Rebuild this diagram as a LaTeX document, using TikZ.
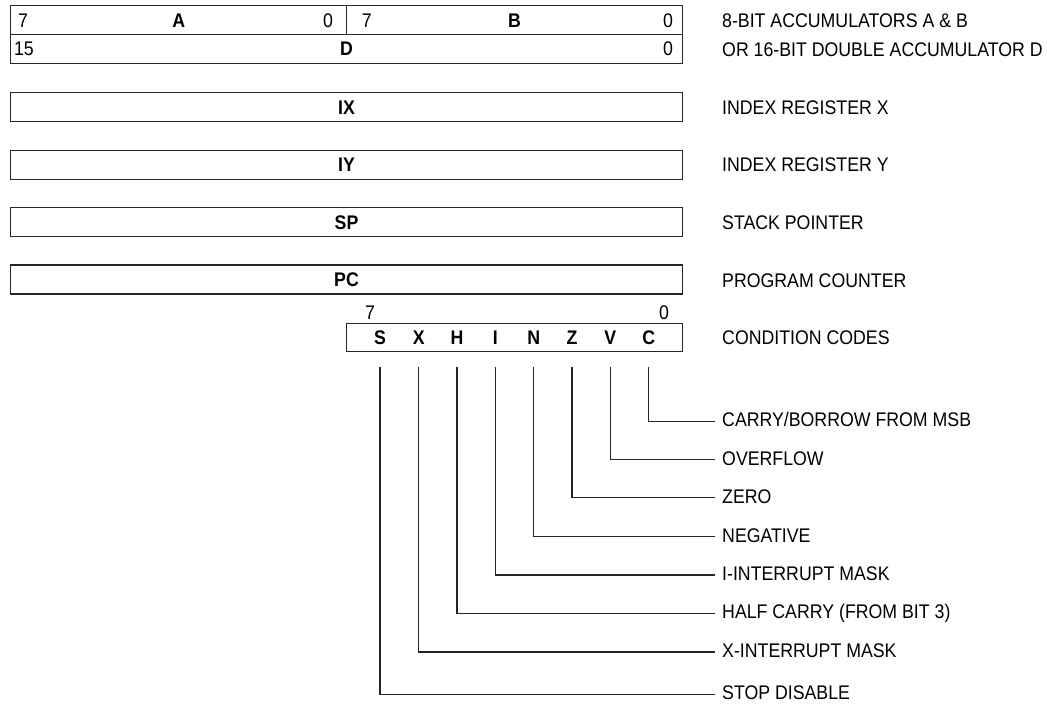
\documentclass[tikz,border=0pt]{standalone}
\usepackage{fontspec}
\setmainfont{Liberation Sans}[FakeStretch=0.9]
\begin{document}
\begin{tikzpicture}[x=1pt,y=-1pt,
  every node/.style={inner sep=0pt, text height=14pt, text depth=0pt,
    font=\fontsize{19.7}{22}\selectfont},
  regbox/.style={draw=black!85, line width=1.1pt, font=\fontsize{19.7}{22}\selectfont\bfseries},
  lbl/.style={anchor=west},
  num/.style={},
  bitname/.style={font=\fontsize{19.7}{22}\selectfont\bfseries},
  wire/.style={draw=black!85, line width=1.1pt}]
\useasboundingbox (0,0) rectangle (1047,705);

% accumulators
\node[regbox, minimum width=336pt, minimum height=28.6pt] (A) at (178.7,20) {A};
\node[regbox, minimum width=335.6pt, minimum height=28.6pt] (B) at (514.5,20) {B};
\node[regbox, minimum width=671.6pt, minimum height=29pt] (D) at (346.5,48.8) {D};
\node[num] (a7) at (23,20) {7};
\node[num] (a0) at (328,20) {0};
\node[num] (b7) at (366.7,20) {7};
\node[num] (b0) at (668,20) {0};
\node[num] (d15) at (24,48.8) {15};
\node[num] (d0) at (668,48.8) {0};

% 16-bit registers
\node[regbox, minimum width=671.6pt, minimum height=29pt] (IX) at (346.5,107.2) {IX};
\node[regbox, minimum width=671.6pt, minimum height=29.3pt] (IY) at (346.5,164.7) {IY};
\node[regbox, minimum width=671.6pt, minimum height=29pt] (SP) at (346.5,222.2) {SP};
\node[regbox, minimum width=671.6pt, minimum height=29pt] (PC) at (346.5,279.5) {PC};

% right labels
\node[lbl] (lAB) at (722,20) {8-BIT ACCUMULATORS A \& B};
\node[lbl] (lD) at (722,49) {OR 16-BIT DOUBLE ACCUMULATOR D};
\node[lbl] (lIX) at (722,107.2) {INDEX REGISTER X};
\node[lbl] (lIY) at (722,164.7) {INDEX REGISTER Y};
\node[lbl] (lSP) at (722,222.2) {STACK POINTER};
\node[lbl] (lPC) at (722,280.5) {PROGRAM COUNTER};
\node[lbl] (lCC) at (722,337.5) {CONDITION CODES};

% condition code register
\node[num] (c7) at (370,312) {7};
\node[num] (c0) at (664,312) {0};
\node[regbox, minimum width=335.8pt, minimum height=28.4pt] (CCR) at (514.6,337.5) {};
\node[bitname] (bS) at (380,337.5) {S};
\node[bitname] (bX) at (418.7,337.5) {X};
\node[bitname] (bH) at (457,337.5) {H};
\node[bitname] (bI) at (495.3,337.5) {I};
\node[bitname] (bN) at (533.8,337.5) {N};
\node[bitname] (bZ) at (572,337.5) {Z};
\node[bitname] (bV) at (610.3,337.5) {V};
\node[bitname] (bC) at (648.8,337.5) {C};

% flag labels
\node[lbl] (fC) at (722,419.5) {CARRY/BORROW FROM MSB};
\node[lbl] (fV) at (722,458) {OVERFLOW};
\node[lbl] (fZ) at (722,496) {ZERO};
\node[lbl] (fN) at (722,535) {NEGATIVE};
\node[lbl] (fI) at (722,573.5) {I-INTERRUPT MASK};
\node[lbl] (fH) at (722,611.5) {HALF CARRY (FROM BIT 3)};
\node[lbl] (fX) at (722,650) {X-INTERRUPT MASK};
\node[lbl] (fS) at (722,692) {STOP DISABLE};

% wire end points
\coordinate (eC) at (715,421.3);
\coordinate (eV) at (715,459.7);
\coordinate (eZ) at (715,497.7);
\coordinate (eN) at (715,536.7);
\coordinate (eI) at (715,575);
\coordinate (eH) at (715,613.3);
\coordinate (eX) at (715,652);
\coordinate (eS) at (715,694.3);

\foreach \b in {C,V,Z,N,I,H,X,S}{
  \draw[wire] ([yshift=-22.5pt]b\b.south) |- (e\b);
}
\end{tikzpicture}
\end{document}
